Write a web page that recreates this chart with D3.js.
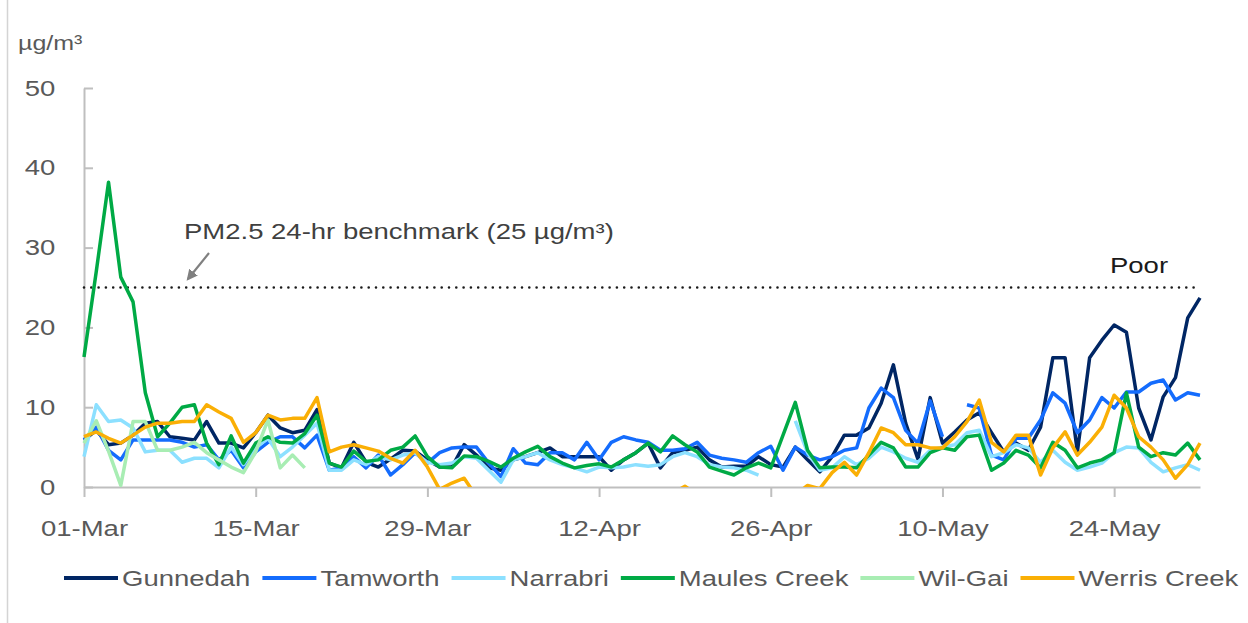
<!DOCTYPE html>
<html>
<head>
<meta charset="utf-8">
<script src="https://cdn.jsdelivr.net/npm/d3@7"></script>
<style>
  body { margin: 0; background: #fff; }
  text { font-family: "Liberation Sans", Arial, sans-serif; }
</style>
</head>
<body>
<script>
"use strict";

// daily PM2.5 averages, 01-Mar to 31-May (null = no reading)
const seriesNames = ["Gunnedah", "Tamworth", "Narrabri", "Maules Creek", "Wil-Gai", "Werris Creek"];
const seriesColors = ["#002664", "#146cfd", "#8ce0ff", "#00aa45", "#a8edb3", "#faaf05"];

const gunnedah = [5.9, 7.1, 5.3, 5.5, 6.5, 8.0, 8.2, 6.3, 6.1, 5.9, 8.2, 5.5, 5.5, 4.9, 6.8, 9.0, 7.4, 6.8, 7.1, 9.7,
  3.0, 2.4, 5.6, 3.1, 2.5, 3.5, 4.6, 4.5, 3.4, 2.5, 2.5, 5.3, 4.0, 2.4, 2.1, 3.4, 3.8, 4.3, 4.9, 3.8,
  3.8, 3.8, 3.8, 2.1, 3.4, 4.3, 5.5, 2.4, 4.3, 4.6, 5.0, 3.4, 2.5, 2.6, 2.6, 3.8, 2.8, 2.5, 5.0, 3.4,
  1.9, 3.8, 6.5, 6.5, 7.4, 10.5, 15.3, 8.0, 3.5, 11.2, 5.5, 6.9, 8.4, 9.3, 6.8, 4.4, 5.5, 4.6, 7.5, 16.2,
  16.2, 4.4, 16.2, 18.4, 20.3, 19.4, 9.9, 5.9, 11.3, 13.7, 21.2, 23.7];
const tamworth = [5.9, 7.5, 4.6, 3.4, 5.9, 5.9, 5.9, 5.9, 5.6, 5.0, 5.3, 3.4, 4.6, 2.4, 4.4, 5.6, 6.3, 6.3, 4.9, 6.5,
  2.1, 2.4, 3.8, 2.4, 4.0, 1.5, 2.8, 4.3, 3.0, 4.3, 4.9, 5.0, 5.0, 3.0, 1.3, 4.8, 3.0, 2.8, 4.3, 4.3,
  3.4, 5.6, 3.4, 5.6, 6.3, 5.9, 5.6, 4.6, 4.6, 4.8, 5.6, 4.0, 3.6, 3.4, 3.1, 4.3, 5.1, 2.1, 5.0, 4.0,
  3.4, 3.8, 4.6, 4.9, 9.9, 12.4, 11.2, 7.1, 5.5, 10.8, 6.3, null, 10.3, 9.9, 4.0, 3.4, 6.1, 6.1, 8.4, 11.8,
  10.5, 6.8, 8.4, 11.2, 9.9, 11.9, 11.9, 13.0, 13.4, 10.9, 11.8, 11.5];
const narrabri = [3.8, 10.3, 8.2, 8.4, 7.4, 4.4, 4.6, 4.6, 3.1, 3.6, 3.6, 2.4, 5.0, 2.8, 4.9, 6.1, 3.8, 5.0, 6.5, 8.0,
  2.1, 2.1, 3.4, 2.8, 3.8, 3.4, 4.0, 4.3, 3.1, 2.8, 3.0, 3.8, 3.6, 2.1, 0.6, 3.4, 3.8, 4.3, 3.4, 2.8,
  2.4, 1.9, 2.5, 2.4, 2.5, 2.8, 2.6, 2.8, 3.8, 4.3, 3.8, 2.8, 2.5, 2.4, 2.1, 1.5, null, null, 8.3, 4.3,
  2.1, 2.4, 3.8, 2.8, 3.6, 5.0, 4.4, 3.6, 3.1, 4.6, 5.0, 5.3, 6.8, 7.1, 3.8, 4.3, 5.3, 4.9, 3.1, 4.6,
  3.1, 2.1, 2.5, 3.0, 4.3, 5.0, 4.9, 3.1, 1.9, 2.4, 2.8, 2.1];
const maulesCreek = [16.3, 27.0, 38.2, 26.3, 23.2, 11.8, 6.3, 8.0, 10.0, 10.3, 5.5, 2.8, 6.4, 3.0, 5.5, 6.3, 5.6, 5.5, 6.7, 9.0,
  3.0, 2.5, 4.5, 3.2, 3.4, 4.6, 5.0, 6.4, 3.8, 2.5, 2.4, 3.9, 3.8, 3.2, 2.5, 3.6, 4.4, 5.1, 3.8, 3.0,
  2.4, 2.7, 2.9, 2.5, 3.4, 4.3, 5.5, 4.4, 6.4, 5.3, 4.4, 2.5, 2.0, 1.5, 2.4, 3.0, 2.4, 6.5, 10.6, 4.6,
  2.4, 2.5, 2.5, 2.4, 4.0, 5.6, 4.9, 2.5, 2.5, 4.3, 4.9, 4.6, 6.3, 6.5, 2.1, 3.0, 4.6, 4.0, 2.4, 5.6,
  4.6, 2.4, 3.0, 3.4, 4.3, 11.8, 5.0, 3.8, 4.3, 4.0, 5.5, 3.4];
const wilGai = [5.5, 8.3, 4.5, 0.2, 8.2, 8.2, 4.6, 4.6, 5.0, 5.6, 4.3, 3.4, 2.5, 1.8, 4.4, 8.4, 2.4, 4.0, 2.4, null,
  null, null, null, null, null, null, null, null, null, null, null, null, null, null, null, null, null, null, null, null,
  null, null, null, null, null, null, null, null, null, null, null, null, null, null, null, null, null, null, null, null,
  null, null, null, null, null, null, null, null, null, null, null, null, null, null, null, null, null, null, null, null,
  null, null, null, null, null, null, null, null, null, null, null, null];
const werrisCreek = [6.3, 6.9, 6.1, 5.5, 6.5, 7.5, 8.0, 8.0, 8.2, 8.2, 10.3, 9.4, 8.6, 5.6, 6.8, 9.0, 8.4, 8.6, 8.6, 11.2,
  4.4, 5.0, 5.3, 4.9, 4.5, 3.6, 3.0, 4.6, 2.5, -0.3, 0.5, 1.1, -1.2, -2.0, -1.8, -2.2, -2.0, -1.5, -2.3, -2.0,
  -1.7, -2.1, -2.0, -1.9, -2.4, -2.0, -1.6, -1.2, -0.8, 0.1, -1.0, -2.0, -2.2, -1.8, -2.1, -2.4, -2.0, -1.6, -1.0, 0.2,
  -0.2, 1.8, 3.1, 1.5, 4.3, 7.4, 6.8, 5.3, 5.3, 4.9, 4.9, 6.3, 8.2, 10.9, 5.6, 4.4, 6.5, 6.5, 1.5, 4.9,
  6.9, 4.0, 5.6, 7.5, 11.5, 9.9, 6.3, 5.0, 3.4, 1.1, 2.8, 5.5];
const seriesValues = [gunnedah, tamworth, narrabri, maulesCreek, wilGai, werrisCreek];

const yTicks = [0, 10, 20, 30, 40, 50];
const benchmark = 25;
const benchmarkLabel = "PM2.5 24-hr benchmark (25 µg/m³)";
const unitLabel = "µg/m³";

const W = 1248, H = 623;
const SX = 1.25; // text is drawn a bit wider than the font gives
const axisGrey = "#bfbfbf";
const labelGrey = "#595959";

function stretchedText(parent, x, y, str, size, fill, anchor) {
  const g = parent.append("g").attr("transform", `translate(${x},${y})`);
  return g.append("text")
    .attr("transform", `scale(${SX},1)`)
    .attr("text-anchor", anchor || "start")
    .style("font-size", size + "px")
    .style("fill", fill)
    .text(str);
}

window.onload = function() {
  const dates = d3.utcDay.range(new Date(Date.UTC(2025, 2, 1)), new Date(Date.UTC(2025, 5, 1)));

  const x = d3.scaleUtc().domain([dates[0], dates[dates.length - 1]]).range([84, 1200]);
  const y = d3.scaleLinear().domain([0, 50]).range([487, 88]);

  const svg = d3.select("body").append("svg")
    .attr("width", W).attr("height", H);

  svg.append("rect").attr("width", W).attr("height", H).attr("fill", "#fff");
  svg.append("line")
    .attr("x1", 7.5).attr("x2", 7.5).attr("y1", 0).attr("y2", H)
    .style("stroke", "#d4d4d4").style("stroke-width", 1.5);

  svg.append("defs").append("clipPath").attr("id", "plot")
    .append("rect").attr("x", 70).attr("y", 0).attr("width", 1150).attr("height", y(0));

  // axes
  const xAxis = d3.axisBottom(x)
    .tickValues(dates.filter((d, i) => i % 14 === 0))
    .tickFormat(d3.utcFormat("%d-%b"))
    .tickSize(10).tickSizeOuter(0).tickPadding(23);
  const gx = svg.append("g").attr("transform", `translate(0,${y(0)})`).call(xAxis);

  const yAxis = d3.axisLeft(y).tickValues(yTicks).tickSize(-9).tickSizeOuter(0).tickPadding(23);
  const gy = svg.append("g").attr("transform", `translate(${x(dates[0])},0)`).call(yAxis);

  [gx, gy].forEach(g => {
    g.select(".domain").style("stroke", axisGrey).style("stroke-width", 2);
    g.selectAll(".tick line").style("stroke", axisGrey).style("stroke-width", 2);
    g.selectAll(".tick text")
      .attr("transform", `scale(${SX},1)`)
      .style("font-size", "22px").style("fill", labelGrey)
      .style("font-family", "'Liberation Sans', Arial, sans-serif");
  });

  stretchedText(svg, 18, 50, unitLabel, 20, labelGrey);

  // benchmark line
  svg.append("line")
    .attr("x1", x(dates[0])).attr("x2", x(dates[dates.length - 1]))
    .attr("y1", y(benchmark)).attr("y2", y(benchmark))
    .style("stroke", "#1a1a1a").style("stroke-width", 2.6)
    .style("stroke-linecap", "round").style("stroke-dasharray", "0,7.3");

  // series
  const line = d3.line()
    .defined(v => v !== null)
    .x((v, i) => x(dates[i]))
    .y(v => y(v));

  svg.append("g").attr("clip-path", "url(#plot)")
    .selectAll("path").data(seriesValues).join("path")
    .attr("d", line)
    .style("fill", "none")
    .style("stroke", (d, i) => seriesColors[i])
    .style("stroke-width", 3.5)
    .style("stroke-linejoin", "round");

  // annotation
  stretchedText(svg, 184, 239, benchmarkLabel, 22, "#404040");
  svg.append("defs").append("marker").attr("id", "head")
    .attr("viewBox", "0 0 10 10").attr("refX", 8).attr("refY", 5)
    .attr("markerWidth", 5).attr("markerHeight", 5).attr("orient", "auto")
    .append("path").attr("d", "M0,0 L10,5 L0,10 z").attr("fill", "#808080");
  svg.append("line")
    .attr("x1", 209).attr("y1", 253).attr("x2", 188).attr("y2", 279)
    .style("stroke", "#808080").style("stroke-width", 2.2)
    .attr("marker-end", "url(#head)");

  stretchedText(svg, 1110, 273, "Poor", 22, "#1a1a1a");

  // legend
  let lx = 64;
  seriesNames.forEach((name, i) => {
    svg.append("line")
      .attr("x1", lx).attr("x2", lx + 54).attr("y1", 578).attr("y2", 578)
      .style("stroke", seriesColors[i]).style("stroke-width", 4);
    const t = stretchedText(svg, lx + 58, 586, name, 22, labelGrey);
    lx += 58 + t.node().getComputedTextLength() * SX + 12;
  });
};
</script>
</body>
</html>
